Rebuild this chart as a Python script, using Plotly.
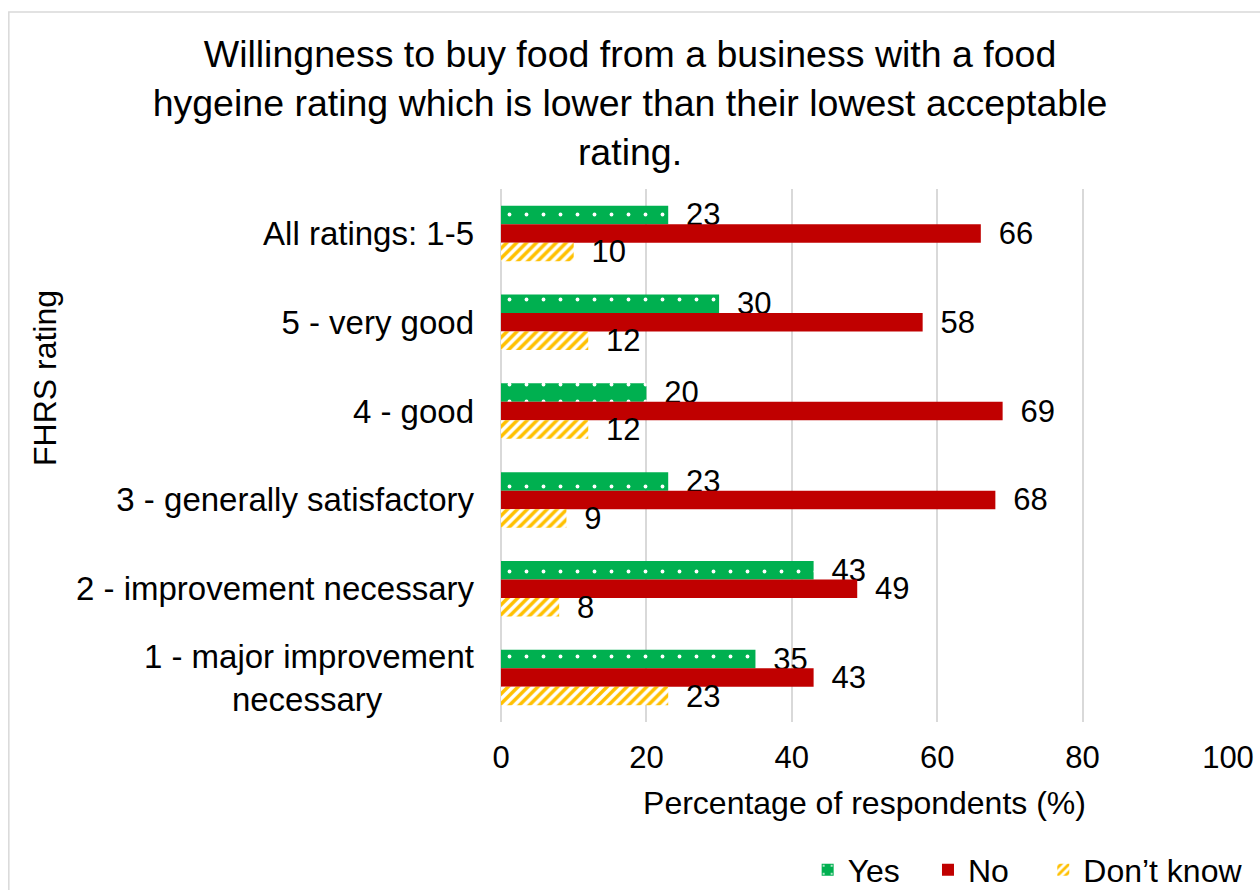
import plotly.graph_objects as go

# Survey results by FHRS rating band
categories = [
    "All ratings: 1-5",
    "5 - very good",
    "4 - good",
    "3 - generally satisfactory",
    "2 - improvement necessary",
    "1 - major improvement<br>necessary" + "\u00a0" * 10,
]
yes_vals = [23, 30, 20, 23, 43, 35]
no_vals = [66, 58, 69, 68, 49, 43]
dont_know_vals = [10, 12, 12, 9, 8, 23]
x_ticks = [0, 20, 40, 60, 80, 100]

FONT = "Arial, 'Liberation Sans', sans-serif"
GREEN = "#00B050"
RED = "#C00000"
AMBER = "#FFC000"

label_fmt = "\u00a0\u2009%{x}"
label_font = dict(size=31, color="black", family=FONT)

fig = go.Figure()
fig.add_trace(go.Bar(
    name="Yes", y=categories, x=yes_vals, orientation="h", legend="legend",
    marker=dict(color=GREEN, line=dict(width=0),
                pattern=dict(shape=".", fgcolor="white", bgcolor=GREEN,
                             size=17, solidity=0.04, fillmode="replace")),
    texttemplate=label_fmt, textposition="outside", textfont=label_font,
    constraintext="none", cliponaxis=False,
))
fig.add_trace(go.Bar(
    name="No", y=categories, x=no_vals, orientation="h", legend="legend2",
    marker=dict(color=RED, line=dict(width=0)),
    texttemplate=label_fmt, textposition="outside", textfont=label_font,
    constraintext="none", cliponaxis=False,
))
fig.add_trace(go.Bar(
    name="Don\u2019t know", y=categories, x=dont_know_vals, orientation="h", legend="legend3",
    marker=dict(color=AMBER, line=dict(width=0),
                pattern=dict(shape="/", fgcolor=AMBER, bgcolor="white",
                             size=7, solidity=0.5, fillmode="replace")),
    texttemplate=label_fmt, textposition="outside", textfont=label_font,
    constraintext="none", cliponaxis=False,
))

# Light outer frame around the whole chart
fig.add_shape(type="rect", xref="paper", yref="paper",
              x0=-0.677, x1=1.2, y0=-0.5, y1=1.332,
              line=dict(color="#D9D9D9", width=1.5), fillcolor="rgba(0,0,0,0)",
              layer="below")

# Vertical axis title
fig.add_annotation(text="FHRS rating", textangle=-90, showarrow=False,
                   xref="paper", yref="paper", x=(45 - 501) / 727, y=(722 - 378) / 533,
                   xanchor="center", yanchor="middle",
                   font=dict(size=32, family=FONT, color="black"))


def legend_box(x):
    return dict(orientation="h", xref="container", x=x, xanchor="left",
                yref="container", y=0.0225, yanchor="middle",
                font=dict(size=32), itemwidth=30, bgcolor="rgba(0,0,0,0)")


fig.update_layout(
    width=1260, height=890,
    margin=dict(l=501, r=32, t=189, b=168, autoexpand=False),
    paper_bgcolor="white", plot_bgcolor="white",
    font=dict(family=FONT, size=32, color="black"),
    barmode="group", bargap=0.375, bargroupgap=0,
    title=dict(
        text="Willingness to buy food from a business with a food<br>"
             "hygeine rating which is lower than their lowest acceptable<br>"
             "rating.",
        x=0.5, xref="container", xanchor="center",
        y=0.9247, yref="container", yanchor="bottom",
        pad=dict(t=0, b=0, l=0, r=0),
        font=dict(size=37.5, family=FONT, color="black"),
    ),
    xaxis=dict(
        range=[0, 100], tickvals=x_ticks, ticks="",
        showgrid=True, gridcolor="#D9D9D9", gridwidth=1.5,
        zeroline=True, zerolinecolor="#D9D9D9", zerolinewidth=1.5,
        showline=False, tickfont=dict(size=31), ticklabelstandoff=14,
        title=dict(text="Percentage of respondents (%)", font=dict(size=32), standoff=17),
    ),
    yaxis=dict(
        autorange="reversed", ticks="", showgrid=False, showline=False,
        ticklabelstandoff=26, tickfont=dict(size=33),
    ),
    legend=legend_box(0.641),
    legend2=legend_box(0.7365),
    legend3=legend_box(0.828),
    showlegend=True,
)

fig.write_html("out.html")
